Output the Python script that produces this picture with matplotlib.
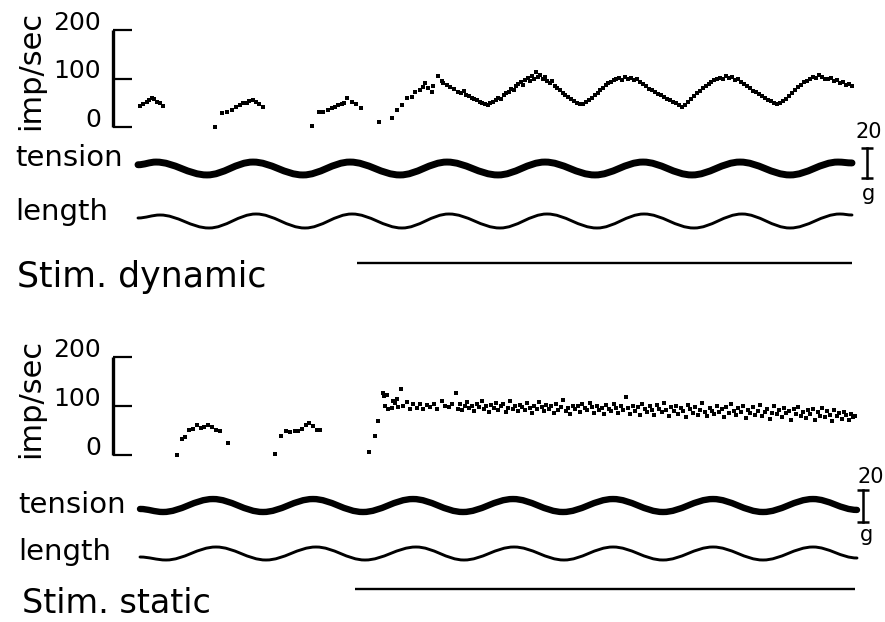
import matplotlib
matplotlib.use("Agg")
import matplotlib.pyplot as plt
from matplotlib.path import Path
from matplotlib.patches import PathPatch
from matplotlib.transforms import ScaledTranslation, blended_transform_factory

# ---------------- data ----------------
rate_ticks = [0, 100, 200]
rate_tick_labels = ["0", "100", "200"]
tension_bar_g = 20

# --- dynamic stimulation panel ---
dyn_rate_t = [0.02, 0.05, 0.09, 0.11, 0.14, 0.16, 0.19, 0.22, 0.25,
              0.77, 0.84, 0.89, 0.94, 0.98, 1.02, 1.05, 1.09, 1.11, 1.15, 1.18, 1.21, 1.25,
              1.74, 1.81, 1.85, 1.90, 1.94, 1.97, 2.00, 2.04, 2.06, 2.09, 2.14, 2.18, 2.23,
              2.41, 2.54, 2.59, 2.64, 2.69, 2.74, 2.77, 2.82, 2.85, 2.87, 2.90, 2.94, 2.95,
              3.00, 3.04, 3.05, 3.09, 3.12, 3.16, 3.20,
              3.23, 3.26, 3.28, 3.31, 3.34, 3.36, 3.39, 3.42, 3.44, 3.47, 3.50, 3.52,
              3.55, 3.58, 3.60, 3.63, 3.66, 3.68, 3.71, 3.73, 3.76, 3.78, 3.80, 3.83, 3.85,
              3.87, 3.90, 3.92, 3.94, 3.96, 3.98, 4.00, 4.02,
              4.05, 4.07, 4.09, 4.12, 4.14, 4.17, 4.19, 4.22, 4.25, 4.27, 4.30, 4.33, 4.36,
              4.39, 4.42, 4.45,
              4.48, 4.51, 4.54, 4.57, 4.60, 4.62, 4.65, 4.68, 4.70, 4.73, 4.76, 4.78, 4.81,
              4.84, 4.87, 4.90, 4.93,
              4.96, 4.99, 5.02, 5.05, 5.08, 5.11, 5.14, 5.17, 5.20, 5.23, 5.26, 5.29, 5.32,
              5.35, 5.38, 5.41, 5.44,
              5.47, 5.50, 5.53, 5.56, 5.59, 5.62, 5.65, 5.68, 5.71, 5.73, 5.76, 5.79, 5.82,
              5.85, 5.88, 5.91, 5.94,
              5.97, 6.00, 6.03, 6.06, 6.09, 6.12, 6.15, 6.18, 6.21, 6.24, 6.27, 6.30, 6.33,
              6.36, 6.39, 6.42,
              6.45, 6.48, 6.51, 6.54, 6.57, 6.60, 6.63, 6.66, 6.69, 6.72, 6.75, 6.78, 6.81,
              6.84, 6.87,
              6.90, 6.93, 6.96, 6.99, 7.02, 7.05, 7.08, 7.11, 7.14]
dyn_rate = [44, 47, 52, 56, 59, 57, 52, 49, 43,
            1, 28, 31, 36, 42, 45, 49, 50, 54, 56, 51, 47, 42,
            2, 30, 31, 36, 40, 42, 45, 47, 50, 59, 52, 47, 40,
            11, 18, 36, 45, 59, 61, 73, 76, 83, 90, 80, 73, 85,
            105, 95, 90, 87, 83, 78, 73,
            70, 74, 66, 63, 60, 57, 55, 52, 50, 48, 46, 49,
            51, 56, 60, 58, 66, 70, 72, 79, 76, 85, 88, 92, 86,
            97, 101, 95, 106, 100, 113, 104, 108,
            99, 103, 94, 90, 95, 84, 80, 76, 70, 66, 62, 58, 54,
            50, 47, 48,
            51, 56, 60, 66, 70, 76, 80, 86, 90, 92, 96, 98, 101,
            97, 103, 99, 101,
            96, 98, 92, 88, 84, 79, 77, 72, 68, 66, 61, 58, 55,
            51, 49, 45, 42,
            46, 51, 58, 64, 70, 74, 80, 84, 88, 92, 96, 99, 102,
            98, 106, 101, 104,
            96, 99, 92, 88, 84, 80, 75, 72, 68, 64, 60, 56, 53,
            50, 47, 49,
            53, 58, 64, 70, 76, 82, 86, 92, 95, 99, 104, 101, 107,
            103, 100,
            98, 102, 94, 96, 90, 92, 87, 88, 84]

dyn_tension_t = [0.00, 0.18, 0.69, 1.15, 1.65, 2.12, 2.62, 3.09, 3.60, 4.07,
                 4.57, 5.05, 5.54, 6.02, 6.52, 7.00, 7.14]
dyn_tension_g = [23.5, 25.3, 16.7, 25.3, 16.7, 25.3, 16.7, 25.3, 16.7, 25.3,
                 16.7, 25.3, 16.7, 25.3, 16.7, 25.3, 24.7]
dyn_length_t = [0.00, 0.22, 0.71, 1.18, 1.67, 2.14, 2.64, 3.11, 3.62, 4.09,
                4.59, 5.06, 5.56, 6.04, 6.52, 7.02, 7.14]
dyn_length_mm = [3.2, 3.5, 2.2, 3.6, 2.2, 3.6, 2.2, 3.6, 2.2, 3.6,
                 2.2, 3.6, 2.2, 3.6, 2.2, 3.6, 3.5]
dyn_stim_on, dyn_stim_off = 2.19, 7.14

# --- static stimulation panel ---
sta_rate_t = [0.37, 0.42, 0.45, 0.49, 0.53, 0.57, 0.61, 0.64, 0.68, 0.72, 0.76, 0.80, 0.88,
              1.35, 1.41, 1.46, 1.50, 1.55, 1.58, 1.62, 1.66, 1.69, 1.73, 1.77, 1.80,
              2.29, 2.35, 2.38, 2.43, 2.44, 2.47, 2.45, 2.48, 2.53, 2.55, 2.57, 2.61, 2.52,
              2.58, 2.63, 2.67, 2.70, 2.73, 2.77, 2.80, 2.83, 2.87, 2.90, 2.94, 2.97, 3.02,
              3.05, 3.09, 3.12, 3.16, 3.18,
              3.20, 3.22, 3.25, 3.27, 3.29, 3.32, 3.34, 3.37, 3.39, 3.42, 3.44, 3.46, 3.49,
              3.51, 3.54, 3.56, 3.58, 3.61, 3.63, 3.66, 3.68, 3.70, 3.73, 3.75, 3.78, 3.80,
              3.82, 3.85, 3.87, 3.90, 3.92, 3.94, 3.97, 3.99, 4.02, 4.04, 4.06, 4.09, 4.11,
              4.14, 4.16, 4.18, 4.21, 4.23, 4.26, 4.28, 4.30, 4.33, 4.35, 4.38, 4.40, 4.42,
              4.45, 4.47, 4.50, 4.52, 4.54, 4.57, 4.59, 4.62, 4.64, 4.66, 4.69, 4.71, 4.74,
              4.76, 4.78, 4.81, 4.83, 4.86, 4.88, 4.90, 4.93, 4.95, 4.98, 5.00, 5.02, 5.05,
              5.07, 5.10, 5.12, 5.14, 5.17, 5.19, 5.22, 5.24, 5.26, 5.29, 5.31, 5.34, 5.36,
              5.38, 5.41, 5.43, 5.46, 5.48, 5.50, 5.53, 5.55, 5.58, 5.60, 5.62, 5.65, 5.67,
              5.70, 5.72, 5.74, 5.77, 5.79, 5.82, 5.84, 5.86, 5.89, 5.91, 5.94, 5.96, 5.98,
              6.01, 6.03, 6.06, 6.08, 6.10, 6.13, 6.15, 6.18, 6.20, 6.22, 6.25, 6.27, 6.30,
              6.32, 6.34, 6.37, 6.39, 6.42, 6.44, 6.46, 6.49, 6.51, 6.54, 6.56, 6.58, 6.61,
              6.63, 6.66, 6.68, 6.70, 6.73, 6.75, 6.78, 6.80, 6.82, 6.85, 6.87, 6.90, 6.92,
              6.94, 6.97, 6.99, 7.02, 7.04, 7.06, 7.09, 7.11, 7.13, 7.15]
sta_rate = [0, 32, 37, 52, 54, 61, 56, 58, 61, 58, 51, 48, 25,
            2, 39, 48, 46, 50, 48, 54, 61, 65, 59, 52, 51,
            7, 39, 70, 127, 120, 122, 99, 93, 111, 107, 114, 134, 95,
            97, 100, 109, 93, 105, 95, 105, 93, 102, 97, 104, 93, 111,
            100, 97, 105, 126, 93,
            104, 92, 99, 108, 95, 101, 90, 104, 97, 110, 93, 100, 88,
            103, 96, 107, 91, 99, 104, 87, 96, 111, 94, 100, 89, 102,
            97, 92, 106, 95, 86, 101, 93, 108, 97, 89, 103, 94, 99,
            85, 105, 92, 98, 113, 90, 96, 84, 101, 93, 99, 88, 104,
            95, 91, 107, 97, 86, 100, 92, 96, 83, 103, 94, 89, 105,
            96, 86, 99, 92, 118, 95, 84, 101, 90, 97, 82, 104, 93,
            88, 99, 91, 81, 102, 94, 87, 107, 92, 80, 97, 89, 101,
            84, 95, 90, 78, 103, 93, 86, 98, 82, 91, 106, 88, 79,
            96, 90, 84, 101, 87, 93, 77, 98, 86, 104, 90, 81, 95,
            87, 99, 76, 92, 85, 97, 82, 90, 102, 79, 88, 94, 74,
            86, 99, 83, 91, 78, 96, 85, 89, 72, 93, 84, 97, 80,
            88, 75, 92, 83, 94, 71, 87, 80, 95, 77, 89, 82, 70,
            91, 79, 86, 74, 88, 81, 72, 84, 77, 80]

sta_tension_t = [0.00, 0.23, 0.73, 1.23, 1.73, 2.23, 2.73, 3.23, 3.73, 4.23,
                 4.73, 5.23, 5.73, 6.23, 6.73, 7.17]
sta_tension_g = [19.4, 17.5, 25.6, 17.5, 25.6, 17.5, 25.6, 17.5, 25.6, 17.5,
                 25.6, 17.5, 25.6, 17.5, 25.6, 18.8]
sta_length_t = [0.00, 0.26, 0.76, 1.26, 1.76, 2.25, 2.76, 3.24, 3.74, 4.24,
                4.73, 5.23, 5.73, 6.23, 6.73, 7.17]
sta_length_mm = [2.3, 2.0, 3.3, 2.0, 3.3, 2.0, 3.3, 2.0, 3.3, 2.0,
                 3.3, 2.0, 3.3, 2.0, 3.3, 2.2]
sta_stim_on, sta_stim_off = 2.15, 7.15

# ---------------- layout ----------------
W, H, DPI = 885, 622, 100
FONT = "DejaVu Sans"
plt.rcParams["font.family"] = FONT
fig = plt.figure(figsize=(W / DPI, H / DPI), dpi=DPI)
fig.patch.set_facecolor("white")


def add_ax(x0, y0, x1, y1, xlim, ylim):
    ax = fig.add_axes([x0 / W, 1 - y1 / H, (x1 - x0) / W, (y1 - y0) / H])
    ax.set_xlim(*xlim)
    ax.set_ylim(*ylim)
    ax.patch.set_alpha(0)
    ax.set_xticks([])
    ax.set_yticks([])
    for s in ax.spines.values():
        s.set_visible(False)
    return ax


def smooth_wave(ax, t, v, lw):
    verts = [(t[0], v[0])]
    codes = [Path.MOVETO]
    k = 0.36
    for i in range(len(t) - 1):
        dt = t[i + 1] - t[i]
        verts += [(t[i] + k * dt, v[i]), (t[i + 1] - k * dt, v[i + 1]), (t[i + 1], v[i + 1])]
        codes += [Path.CURVE4] * 3
    ax.add_patch(PathPatch(Path(verts, codes), fill=False, lw=lw, ec="black",
                           capstyle="round", joinstyle="round", clip_on=False))


def panel(t0_px, rate_y, ten_y, ten_pxpg, len_y, stim_y, rate_t, rate, ten_t, ten_g,
          len_t, len_mm, stim_on, stim_off, bar_t, bar_lo, labels, label_pos,
          imp_center, num20_off, g_off, ten_lw):
    xlim = ((113 - t0_px) / 100, (885 - t0_px) / 100)
    # firing rate
    ax = add_ax(113, rate_y[0], 885, rate_y[1], xlim, (0, 200))
    ax.spines["left"].set_visible(True)
    ax.spines["left"].set_linewidth(2.4)
    ax.spines["left"].set_capstyle("butt")
    ax.set_yticks(rate_ticks)
    ax.set_yticklabels([])
    ax.tick_params(axis="y", direction="in", length=14, width=1.6, color="black")
    tr = blended_transform_factory(ax.transAxes, ax.transData) + \
        ScaledTranslation(-12 / DPI, 7 / DPI, fig.dpi_scale_trans)
    for v, lab in zip(rate_ticks, rate_tick_labels):
        ax.text(0, v, lab, transform=tr, ha="right", va="center", fontsize=18)
    ax.scatter(rate_t, rate, s=6.5, marker="s", color="black", lw=0, clip_on=False)
    fig.text(imp_center[0] / W, 1 - imp_center[1] / H, "imp/sec", rotation=90,
             ha="center", va="center", fontsize=22)
    # tension
    axt = add_ax(113, ten_y[0], 885, ten_y[1], xlim, (0, (ten_y[1] - ten_y[0]) / ten_pxpg))
    smooth_wave(axt, ten_t, ten_g, ten_lw)
    axt.plot([bar_t, bar_t], [bar_lo, bar_lo + tension_bar_g], color="black", lw=1.8,
             marker="_", ms=8, mew=1.8, clip_on=False)
    axt.annotate("20", (bar_t, bar_lo + tension_bar_g), xytext=num20_off,
                 textcoords="offset pixels", ha="center", va="center", fontsize=15)
    axt.annotate("g", (bar_t, bar_lo), xytext=g_off,
                 textcoords="offset pixels", ha="center", va="center", fontsize=15)
    # length
    axl = add_ax(113, len_y[0], 885, len_y[1], xlim, (0, 5))
    smooth_wave(axl, len_t, len_mm, 2.1)
    # stimulus
    axs = add_ax(113, stim_y[0], 885, stim_y[1], xlim, (0, 1))
    axs.plot([stim_on, stim_off], [0.5, 0.5], color="black", lw=1.7, solid_capstyle="butt")
    for (txt, size), (x, y) in zip(labels, label_pos):
        fig.text(x / W, 1 - y / H, txt, ha="left", va="baseline", fontsize=size)


panel(138, (30, 127), (120, 200), 1.5, (200, 250), (253, 273),
      dyn_rate_t, dyn_rate, dyn_tension_t, dyn_tension_g, dyn_length_t, dyn_length_mm,
      dyn_stim_on, dyn_stim_off, 7.29, 15.0,
      [("tension", 21), ("length", 21), ("Stim. dynamic", 25)],
      [(15, 166), (15, 220), (17, 287)], (31, 70), (2, 16), (1, -16), 5.0)

panel(140, (357, 455), (470, 540), 1.6, (530, 580), (579, 599),
      sta_rate_t, sta_rate, sta_tension_t, sta_tension_g, sta_length_t, sta_length_mm,
      sta_stim_on, sta_stim_off, 7.23, 11.25,
      [("tension", 21), ("length", 21), ("Stim. static", 24)],
      [(18, 513), (18, 560), (22, 613)], (31, 398), (8, 13), (4, -13), 4.6)

fig.savefig("out.png", dpi=DPI, facecolor="white")
